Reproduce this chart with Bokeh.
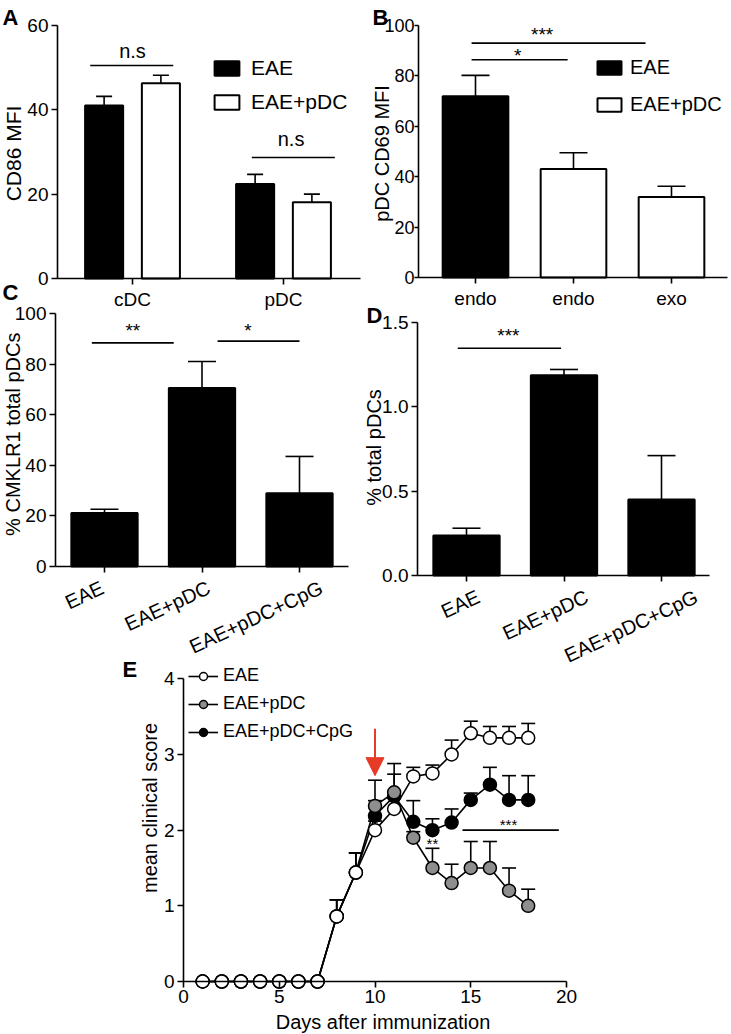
import math
from bokeh.plotting import figure
from bokeh.models import (ColumnDataSource, Whisker, TeeHead, Legend, LegendItem, Label,
                          FixedTicker, Arrow, NormalHead, LinearAxis, Range1d)
from bokeh.embed import file_html
from bokeh.resources import INLINE
from bokeh.core.properties import value

FONT = "Liberation Sans"
RED = "#e63b26"
GRAY = "#8e8e8e"
MID = 0.35  # distance (in em) from a text's middle down to its baseline
W, H = 731, 1034

# ---------------- data ----------------
# Panel A : CD86 MFI
a_groups = ["cDC", "pDC"]
a_series = ["EAE", "EAE+pDC"]
a_eae = [41.0, 22.4]
a_eae_sem = [2.2, 2.3]
a_pdc = [46.3, 18.1]
a_pdc_sem = [1.9, 1.9]
a_yticks = [0, 20, 40, 60]
a_sig_text = ["n.s", "n.s"]
a_sig_y = [50.5, 28.7]
a_sig_x0 = [-0.28, 0.79]
a_sig_x1 = [0.27, 1.34]
a_sig_tx = [0.0, 1.05]
a_sig_ty = [52.2, 31.4]

# Panel B : pDC CD69 MFI
b_cats = ["endo", "endo", "exo"]
b_groups = ["EAE", "EAE+pDC", "EAE+pDC"]
b_vals = [71.9, 43.1, 31.9]
b_sem = [8.3, 6.4, 4.3]
b_yticks = [0, 20, 40, 60, 80, 100]
b_sig_text = ["*", "***"]
b_sig_y = [86.4, 93.0]
b_sig_x0 = [-0.04, -0.04]
b_sig_x1 = [0.94, 1.735]
b_sig_tx = [0.43, 0.68]
b_sig_ty = [85.3, 93.9]

# Panel C : % CMKLR1 total pDCs
c_cats = ["EAE", "EAE+pDC", "EAE+pDC+CpG"]
c_vals = [21.1, 70.6, 29.0]
c_sem = [1.5, 10.4, 14.5]
c_yticks = [0, 20, 40, 60, 80, 100]
c_sig_text = ["**", "*"]
c_sig_y = [88.4, 89.1]
c_sig_x0 = [-0.13, 1.16]
c_sig_x1 = [0.71, 2.0]
c_sig_tx = [0.29, 1.47]
c_sig_ty = [90.5, 90.5]

# Panel D : % total pDCs
d_cats = ["EAE", "EAE+pDC", "EAE+pDC+CpG"]
d_vals = [0.237, 1.186, 0.45]
d_sem = [0.043, 0.034, 0.26]
d_yticks = [0, 0.5, 1.0, 1.5]
d_ylabels = ["0.0", "0.5", "1.0", "1.5"]
d_sig_text = ["***"]
d_sig_y = [1.346]
d_sig_x0 = [-0.09]
d_sig_x1 = [0.97]
d_sig_tx = [0.43]
d_sig_ty = [1.38]

# Panel E : clinical score
days = [1, 2, 3, 4, 5, 6, 7, 8, 9, 10, 11, 12, 13, 14, 15, 16, 17, 18]
e_eae = [0, 0, 0, 0, 0, 0, 0, 0.86, 1.44, 2.00, 2.28, 2.71, 2.75, 3.00, 3.28, 3.22, 3.22, 3.22]
e_eae_sem = [0, 0, 0, 0, 0, 0, 0, 0.22, 0.26, 0.12, 0.14, 0.12, 0.11, 0.19, 0.16, 0.15, 0.15, 0.19]
e_pdc = [0, 0, 0, 0, 0, 0, 0, 0.86, 1.44, 2.32, 2.50, 1.90, 1.50, 1.30, 1.50, 1.50, 1.20, 1.00]
e_pdc_sem = [0, 0, 0, 0, 0, 0, 0, 0.22, 0.26, 0.07, 0.24, 0.08, 0.26, 0.25, 0.35, 0.35, 0.30, 0.22]
e_cpg = [0, 0, 0, 0, 0, 0, 0, 0.86, 1.44, 2.19, 2.45, 2.11, 2.00, 2.10, 2.40, 2.60, 2.40, 2.40]
e_cpg_sem = [0, 0, 0, 0, 0, 0, 0, 0.22, 0.26, 0.47, 0.43, 0.28, 0.15, 0.18, 0.09, 0.23, 0.32, 0.32]
e_series = ["EAE", "EAE+pDC", "EAE+pDC+CpG"]
e_xticks = [0, 5, 10, 15, 20]
e_yticks = [0, 1, 2, 3, 4]
e_sig_text = ["**", "***"]
e_sig_tx = [13.0, 16.97]
e_sig_ty = [1.75, 2.0]
e_sig_line_x = [14.57, 19.6]
e_sig_line_y = 2.0
arrow_day = 10
arrow_from = 3.34
arrow_to = 2.72

# ---------------- layout (pixel placement of each panel on the page) ----------------
# name: (x-pixel of x=0, px per x unit, y-pixel of y=0, px per y unit)
PANELS = {
    "A": (132, 151.0, 278, 253 / 60),
    "B": (475, 98.0, 277, 2.52),
    "C": (104, 97.5, 566, 2.53),
    "D": (466, 97.5, 575, 253.3 / 1.5),
    "E": (183, 19.15, 981, 75.675),
}
C_LABEL_SHIFT = [-2, 7, 22]     # px, slanted category labels
D_LABEL_SHIFT = [12, 23, 35]

p = figure(width=W, height=H, x_range=Range1d(0, W), y_range=Range1d(0, H),
           x_axis_location=None, y_axis_location=None,
           output_backend="svg", toolbar_location=None, min_border=0)
p.outline_line_color = None
p.grid.visible = False
p.background_fill_color = "white"
p.border_fill_color = "white"

for name, (x0, kx, y0, ky) in PANELS.items():
    p.extra_x_ranges[name] = Range1d(start=(0 - x0) / kx, end=(W - x0) / kx)
    p.extra_y_ranges[name] = Range1d(start=(y0 - H) / ky, end=y0 / ky)


def to_x(name, px):
    x0, kx, _, _ = PANELS[name]
    return (px - x0) / kx


def R(name):
    return dict(x_range_name=name, y_range_name=name)


# ---------------- helpers ----------------
def style_axis(ax, standoff, size="19px", tick=6):
    ax.axis_line_color = "black"
    ax.axis_line_width = 1.6
    ax.major_tick_line_color = "black"
    ax.major_tick_line_width = 1.6
    ax.major_tick_out = tick
    ax.major_tick_in = 0
    ax.minor_tick_out = 0
    ax.minor_tick_in = 0
    ax.major_label_text_font = FONT
    ax.major_label_text_font_size = size
    ax.major_label_text_color = "black"
    ax.major_label_standoff = standoff


def add_axes(name, y_axis_px, x_end_px, y_top, xticks, yticks, xlabels=None, ylabels=None,
             x_standoff=4, y_standoff=3, y_tick=6, y_size="19px", slant=None):
    y_at = to_x(name, y_axis_px)
    x_end = to_x(name, x_end_px)
    if slant is None:
        xa = LinearAxis(fixed_location=0, bounds=(y_at, x_end), ticker=FixedTicker(ticks=xticks), **R(name))
        style_axis(xa, x_standoff)
        if xlabels is not None:
            xa.major_label_overrides = {t: l for t, l in zip(xticks, xlabels)}
    else:
        # labels sit on (shifted) major ticks; the visible tick marks are minor ticks at the bars
        kx = PANELS[name][1]
        pos = [t + s / kx for t, s in zip(xticks, slant)]
        xa = LinearAxis(fixed_location=0, bounds=(y_at, x_end),
                        ticker=FixedTicker(ticks=pos, minor_ticks=xticks), **R(name))
        style_axis(xa, 14, size="20px")
        xa.major_tick_line_color = None
        xa.minor_tick_line_color = "black"
        xa.minor_tick_line_width = 1.6
        xa.minor_tick_out = 6
        xa.major_label_overrides = {q: l for q, l in zip(pos, xlabels)}
        xa.major_label_orientation = math.radians(25)
    ya = LinearAxis(fixed_location=y_at, bounds=(0, y_top), ticker=FixedTicker(ticks=yticks), **R(name))
    style_axis(ya, y_standoff, size=y_size, tick=y_tick)
    if ylabels is not None:
        ya.major_label_overrides = {t: l for t, l in zip(yticks, ylabels)}
    p.add_layout(xa, "below")
    p.add_layout(ya, "left")


def screen_text(text, x, y_img, size_px, bold=False, vertical=False, align="left"):
    # (x, y_img) is the baseline anchor in page pixels (y from the top)
    y = H - y_img
    if vertical:
        x = x - MID * size_px
    else:
        y = y + MID * size_px
    p.add_layout(Label(x=x, y=y, x_units="screen", y_units="screen", text=text,
                       angle=math.pi / 2 if vertical else 0,
                       text_font=FONT, text_font_size=f"{size_px}px",
                       text_font_style="bold" if bold else "normal",
                       text_align=align, text_baseline="middle", text_color="black"))


def sig(name, x0, x1, y, tx, ty, texts, size_px):
    ky = PANELS[name][3]
    p.segment(x0=x0, y0=y, x1=x1, y1=y, line_color="black", line_width=1.6, **R(name))
    mids = [v + MID * size_px / ky for v in ty]
    p.text(x=tx, y=mids, text=texts, text_font=value(FONT), text_font_size=f"{size_px}px",
           text_align="center", text_baseline="middle", text_color="black", **R(name))


def whisk(name, xs, vals, sems, cap, level="annotation"):
    src = ColumnDataSource(dict(base=xs, lower=vals, upper=[v + s for v, s in zip(vals, sems)]))
    w = Whisker(base="base", lower="lower", upper="upper", source=src, dimension="height",
                lower_head=None, upper_head=TeeHead(size=cap, line_width=1.6, line_color="black"),
                line_width=1.6, line_color="black", level=level, **R(name))
    p.add_layout(w)


def legend(items, x_img, bottom_img, gw, gh, spacing, standoff, size):
    p.add_layout(Legend(items=items, location=(x_img, H - bottom_img), glyph_width=gw,
                        glyph_height=gh, label_height=gh, spacing=spacing, padding=0, margin=0,
                        label_standoff=standoff, border_line_color=None, background_fill_alpha=0,
                        label_text_font=FONT, label_text_font_size=size, label_text_color="black"))


# ---------------- Panel A ----------------
a_pos = list(range(len(a_groups)))
add_axes("A", 57, 360, 60, a_pos, a_yticks, xlabels=a_groups)
a_x1 = [x - 0.188 for x in a_pos]
a_x2 = [x + 0.188 for x in a_pos]
rA1 = p.vbar(x=a_x1, top=a_eae, width=0.252, fill_color="black", line_color="black", line_width=2, **R("A"))
rA2 = p.vbar(x=a_x2, top=a_pdc, width=0.252, fill_color="white", line_color="black", line_width=2, **R("A"))
whisk("A", a_x1, a_eae, a_eae_sem, 16)
whisk("A", a_x2, a_pdc, a_pdc_sem, 16)
sig("A", a_sig_x0, a_sig_x1, a_sig_y, a_sig_tx, a_sig_ty, a_sig_text, 20)
legend([LegendItem(label=a_series[0], renderers=[rA1]),
        LegendItem(label=a_series[1], renderers=[rA2])], 211, 114.3, 31, 18, 10, 9, "21px")
screen_text("CD86 MFI", 20, 153, 21, vertical=True, align="center")
screen_text("A", 2, 25, 22, bold=True)

# ---------------- Panel B ----------------
b_pos = list(range(len(b_cats)))
add_axes("B", 418, 727, 100, b_pos, b_yticks, xlabels=b_cats, y_standoff=0, y_tick=4, y_size="18px")
b_fill = {"EAE": "black", "EAE+pDC": "white"}
b_rend = {}
for g in ["EAE", "EAE+pDC"]:
    xs = [x for x, gg in zip(b_pos, b_groups) if gg == g]
    ys = [v for v, gg in zip(b_vals, b_groups) if gg == g]
    b_rend[g] = p.vbar(x=xs, top=ys, width=0.67, fill_color=b_fill[g], line_color="black",
                       line_width=2, **R("B"))
whisk("B", b_pos, b_vals, b_sem, 28)
sig("B", b_sig_x0, b_sig_x1, b_sig_y, b_sig_tx, b_sig_ty, b_sig_text, 19)
legend([LegendItem(label=g, renderers=[b_rend[g]]) for g in ["EAE", "EAE+pDC"]],
       594, 115.5, 30, 17, 14, 6, "20px")
screen_text("pDC CD69 MFI", 388, 153, 20, vertical=True, align="center")
screen_text("B", 372, 25, 22, bold=True)

# ---------------- Panel C ----------------
c_pos = list(range(len(c_cats)))
add_axes("C", 55, 348, 100, c_pos, c_yticks, xlabels=c_cats, slant=C_LABEL_SHIFT)
p.vbar(x=c_pos, top=c_vals, width=0.68, fill_color="black", line_color="black", line_width=2, **R("C"))
whisk("C", c_pos, c_vals, c_sem, 28)
sig("C", c_sig_x0, c_sig_x1, c_sig_y, c_sig_tx, c_sig_ty, c_sig_text, 19)
screen_text("% CMKLR1 total pDCs", 19.5, 433.7, 20, vertical=True, align="center")
screen_text("C", 2, 300, 22, bold=True)

# ---------------- Panel D ----------------
d_pos = list(range(len(d_cats)))
add_axes("D", 417, 709, 1.5, d_pos, d_yticks, xlabels=d_cats, ylabels=d_ylabels, slant=D_LABEL_SHIFT)
p.vbar(x=d_pos, top=d_vals, width=0.68, fill_color="black", line_color="black", line_width=2, **R("D"))
whisk("D", d_pos, d_vals, d_sem, 28)
sig("D", d_sig_x0, d_sig_x1, d_sig_y, d_sig_tx, d_sig_ty, d_sig_text, 19)
screen_text("% total pDCs", 380, 447, 20, vertical=True, align="center")
screen_text("D", 366, 323, 22, bold=True)

# ---------------- Panel E ----------------
add_axes("E", 183, 566, 4, e_xticks, e_yticks, x_standoff=2, y_standoff=3)
e_vals = [e_eae, e_pdc, e_cpg]
e_sems = [e_eae_sem, e_pdc_sem, e_cpg_sem]
e_fill = ["white", GRAY, "black"]
for vals, sems in zip(e_vals, e_sems):
    whisk("E", days, vals, sems, 14, level="underlay")
lines = {}
for name, vals in zip(e_series, e_vals):
    lines[name] = p.line(days, vals, line_color="black", line_width=1.6, **R("E"))
marks = {}
for idx in [2, 1, 0]:
    marks[e_series[idx]] = p.scatter(days, e_vals[idx], marker="circle", size=13,
                                     fill_color=e_fill[idx], line_color="black", line_width=1.5,
                                     **R("E"))
sig("E", [e_sig_line_x[0]], [e_sig_line_x[1]], [e_sig_line_y], e_sig_tx, e_sig_ty, e_sig_text, 15)
p.add_layout(Arrow(end=NormalHead(size=18, fill_color=RED, line_color=RED, line_width=1),
                   x_start=arrow_day, y_start=arrow_from, x_end=arrow_day, y_end=arrow_to,
                   line_color=RED, line_width=2, **R("E")))
legend([LegendItem(label=n, renderers=[lines[n], marks[n]]) for n in e_series],
       188, 742, 30, 20, 7, 5, "18px")
screen_text("Days after immunization", 382.5, 1028, 20, align="center")
screen_text("mean clinical score", 156.6, 807.5, 20, vertical=True, align="center")
screen_text("E", 122, 677, 22, bold=True)

open("out.html", "w").write(file_html(p, INLINE))
